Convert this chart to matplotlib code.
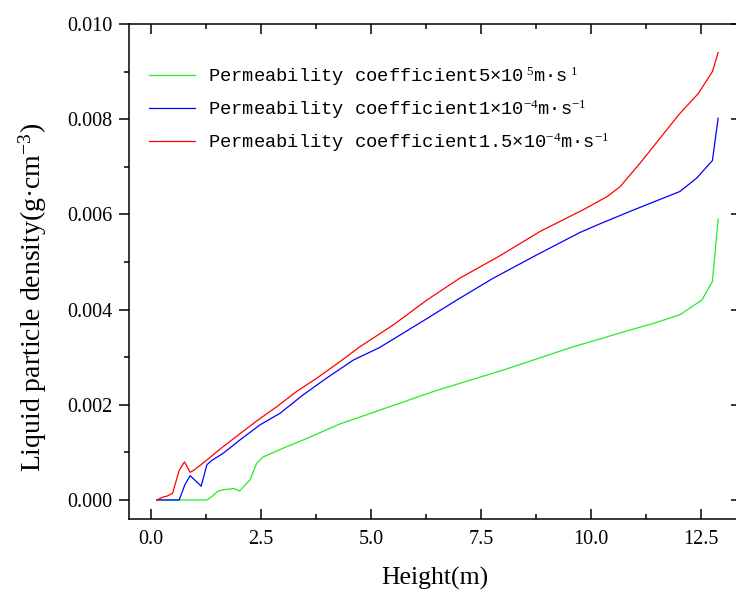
import matplotlib
matplotlib.use("Agg")
import matplotlib.pyplot as plt
from matplotlib.ticker import MultipleLocator, FormatStrFormatter

plt.rcParams['font.family'] = ['Liberation Serif', 'DejaVu Serif']
plt.rcParams['mathtext.fontset'] = 'custom'
plt.rcParams['mathtext.rm'] = 'Liberation Serif'
plt.rcParams['mathtext.it'] = 'Liberation Serif:italic'

# values
h_low = [0.13, 1.27, 1.38, 1.53, 1.68, 1.89, 2.01, 2.25, 2.40, 2.54, 3.01, 3.61, 4.30,
         4.90, 5.24, 6.49, 8.01, 9.60, 10.20, 10.66, 11.42, 12.02, 12.52, 12.76, 12.89]
d_low = [0, 0, 0.00007, 0.00019, 0.00022, 0.00024, 0.00019, 0.00042, 0.00077, 0.00090,
         0.00109, 0.00132, 0.00160, 0.00179, 0.00190, 0.00230, 0.00273, 0.00322, 0.00338,
         0.00351, 0.00371, 0.00389, 0.00420, 0.00459, 0.00590]

h_mid = [0.13, 0.64, 0.77, 0.89, 1.14, 1.27, 1.38, 1.64, 2.02, 2.48, 2.93, 3.46, 3.99,
         4.60, 5.19, 5.51, 6.27, 6.95, 7.78, 8.77, 9.75, 10.20, 10.96, 12.02, 12.40,
         12.76, 12.89]
d_mid = [0, 0, 0.00032, 0.00051, 0.00029, 0.00074, 0.00083, 0.00098, 0.00126, 0.00158,
         0.00182, 0.00221, 0.00256, 0.00294, 0.00320, 0.00338, 0.00381, 0.00420, 0.00466,
         0.00515, 0.00562, 0.00580, 0.00609, 0.00648, 0.00676, 0.00713, 0.00802]

h_high = [0.13, 0.27, 0.36, 0.49, 0.64, 0.76, 0.89, 0.98, 1.27, 1.57, 1.95, 2.40, 2.86,
          3.31, 3.77, 4.30, 4.75, 5.51, 6.27, 7.02, 7.93, 8.84, 9.83, 10.36, 10.66, 11.11,
          11.57, 12.02, 12.44, 12.76, 12.89]
d_high = [0, 0.00006, 0.00008, 0.00014, 0.00062, 0.00080, 0.00058, 0.00063, 0.00084,
          0.00107, 0.00134, 0.00166, 0.00196, 0.00228, 0.00256, 0.00291, 0.00322, 0.00368,
          0.00420, 0.00466, 0.00513, 0.00564, 0.00610, 0.00637, 0.00658, 0.00707, 0.00760,
          0.00812, 0.00854, 0.00900, 0.00940]

labels = ['Permeability coefficient5×10$^{\\ 5}$m·s$^{\\ 1}$',
          'Permeability coefficient1×10$^{-4}$m·s$^{-1}$',
          'Permeability coefficient1.5×10$^{-4}$m·s$^{-1}$']
colors = ['#22ee22', '#0000ff', '#ff0000']

fig = plt.figure(figsize=(7.36, 5.92), dpi=100)
# right spine sits just past the right edge of the picture, as in the reference
ax = fig.add_axes([0.1753, 0.1233, 0.8315, 0.8362])

ax.plot(h_low, d_low, color=colors[0], lw=0.9, label=labels[0])
ax.plot(h_mid, d_mid, color=colors[1], lw=0.9, label=labels[1])
ax.plot(h_high, d_high, color=colors[2], lw=0.9, label=labels[2])

ax.set_xlim(-0.5, 13.41)
ax.set_ylim(-0.0004, 0.010)

ax.xaxis.set_major_locator(MultipleLocator(2.5))
ax.xaxis.set_minor_locator(MultipleLocator(1.25))
ax.yaxis.set_major_locator(MultipleLocator(0.002))
ax.yaxis.set_minor_locator(MultipleLocator(0.001))
ax.xaxis.set_major_formatter(FormatStrFormatter('%.1f'))
ax.yaxis.set_major_formatter(FormatStrFormatter('%.3f'))

ax.tick_params(axis='x', which='both', direction='in', top=True, bottom=True,
               labelsize=14.5, pad=8)
ax.tick_params(axis='y', which='both', direction='out', left=True, right=False,
               labelsize=14.5, pad=5)
ax.tick_params(which='major', length=7, width=1.1)
ax.tick_params(which='minor', length=3.8, width=1.1)
for s in ax.spines.values():
    s.set_linewidth(1.1)

# right axis: inward ticks, no labels
sec = ax.secondary_yaxis('right')
sec.yaxis.set_major_locator(MultipleLocator(0.002))
sec.yaxis.set_minor_locator(MultipleLocator(0.001))
sec.tick_params(which='both', direction='in', labelright=False, width=1.1)
sec.tick_params(which='major', length=7)
sec.tick_params(which='minor', length=3.8)
sec.spines['right'].set_linewidth(1.1)

ax.set_xlabel('Height(m)', fontsize=18.5, labelpad=13)
ax.set_ylabel('Liquid particle density(g·cm$^{-3}$)', fontsize=20)
ax.yaxis.set_label_coords(-0.13, 0.447)

leg = ax.legend(loc='upper left', bbox_to_anchor=(0.033, 0.918), frameon=False,
                prop={'family': 'Liberation Mono', 'size': 13.5},
                handlelength=2.45, handletextpad=0.7, labelspacing=0.5,
                borderpad=0, borderaxespad=0)

fig.savefig('out.png', dpi=100)
